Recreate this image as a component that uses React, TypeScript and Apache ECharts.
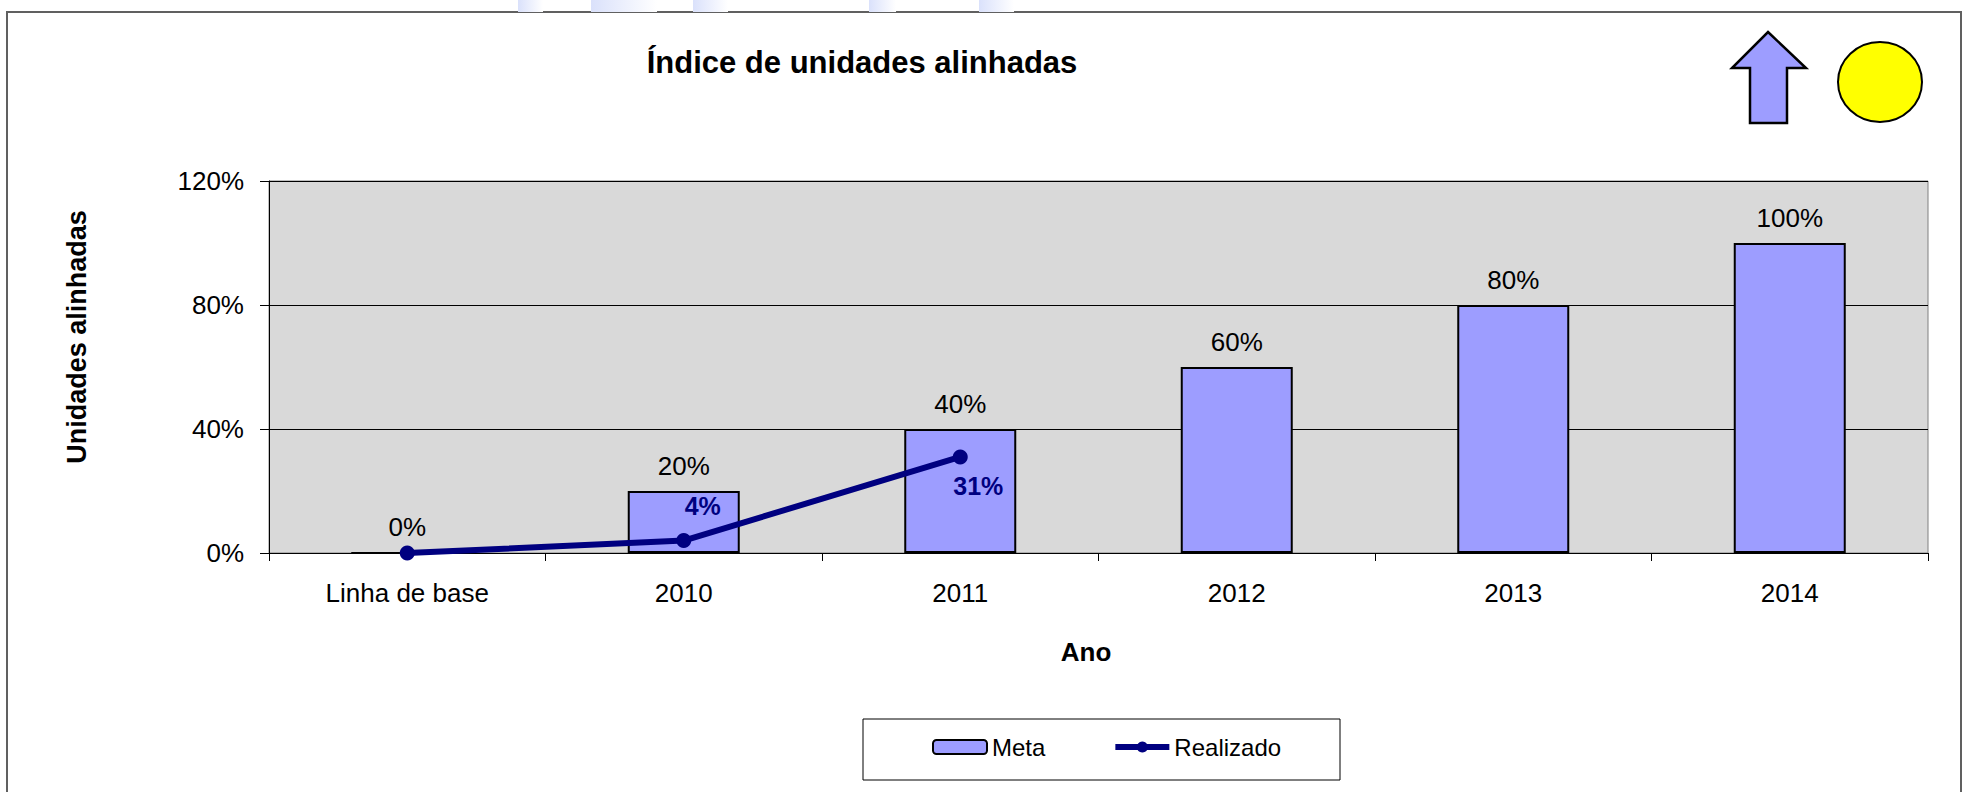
import React, { useEffect, useRef } from "react";
import * as echarts from "echarts";

const categories = ["Linha de base", "2010", "2011", "2012", "2013", "2014"];
const metaValues = [0, 20, 40, 60, 80, 100];
const realizadoValues: (number | string)[] = [0, 4, 31, "-", "-", "-"];
const yTicks = [0, 40, 80, 120];
const titleText = "Índice de unidades alinhadas";
const yAxisTitle = "Unidades alinhadas";
const xAxisTitle = "Ano";

const FONT = "'Liberation Sans', Arial, Helvetica, sans-serif";

export default function App() {
  const ref = useRef<HTMLDivElement>(null);

  useEffect(() => {
    if (!ref.current) return;
    const chart = echarts.init(ref.current, undefined, { renderer: "svg" });

    const realizadoLabelOffsets: Record<number, [number, number]> = {
      1: [19, -35],
      2: [18, 29],
    };
    const realizadoData = realizadoValues.map((v, i) => {
      const off = realizadoLabelOffsets[i];
      return {
        value: v,
        label: off
          ? { show: true, position: "inside", offset: off }
          : { show: false },
      };
    });

    const blobs = [
      [518, 543],
      [591, 657],
      [693, 728],
      [869, 896],
      [979, 1014],
    ];

    const option: any = {
      animation: false,
      backgroundColor: "#ffffff",
      textStyle: { fontFamily: FONT },
      grid: {
        left: 269,
        top: 181,
        width: 1659,
        height: 372,
        show: true,
        backgroundColor: "#d9d9d9",
        borderColor: "#808080",
        borderWidth: 1,
        containLabel: false,
      },
      legend: {
        left: 932,
        top: 735,
        itemWidth: 54,
        itemHeight: 14,
        itemGap: 67,
        padding: 0,
        lineStyle: { width: 6 },
        textStyle: { fontSize: 24, color: "#000", fontFamily: FONT, lineHeight: 24 },
        data: ["Meta", "Realizado"],
      },
      xAxis: {
        type: "category",
        data: categories,
        boundaryGap: true,
        axisLine: { lineStyle: { color: "#000", width: 1 } },
        axisTick: { show: true, length: 8, lineStyle: { color: "#000" } },
        axisLabel: { fontSize: 26, color: "#000", margin: 27, fontFamily: FONT },
        splitLine: { show: false },
      },
      yAxis: {
        type: "value",
        min: yTicks[0],
        max: yTicks[yTicks.length - 1],
        interval: yTicks[1] - yTicks[0],
        axisLine: { show: true, lineStyle: { color: "#000", width: 1 } },
        axisTick: { show: true, length: 9, lineStyle: { color: "#000" } },
        axisLabel: {
          fontSize: 26,
          color: "#000",
          margin: 25,
          fontFamily: FONT,
          formatter: "{value}%",
        },
        splitLine: { show: true, lineStyle: { color: "#000", width: 1 } },
      },
      series: [
        {
          name: "Meta",
          type: "bar",
          data: metaValues,
          barWidth: 112,
          itemStyle: { color: "#9d9dff", borderColor: "#000", borderWidth: 2 },
          label: {
            show: true,
            position: "top",
            distance: 12,
            fontSize: 26,
            color: "#000",
            fontFamily: FONT,
            formatter: "{c}%",
          },
          z: 2,
        },
        {
          name: "Realizado",
          type: "line",
          data: realizadoData,
          symbol: "circle",
          symbolSize: 15,
          lineStyle: { color: "#000080", width: 6 },
          itemStyle: { color: "#000080" },
          label: {
            fontSize: 25,
            fontWeight: "bold",
            color: "#000080",
            fontFamily: FONT,
            formatter: "{c}%",
          },
          z: 5,
        },
      ],
      graphic: [
        ...blobs.map(([a, b]) => ({
          type: "rect",
          shape: { x: a, y: 0, width: b - a, height: 12 },
          style: {
            fill: new echarts.graphic.LinearGradient(0, 0, 1, 0, [
              { offset: 0, color: "#dae1fb" },
              { offset: 1, color: "#ffffff" },
            ]),
          },
          silent: true,
        })),
        {
          type: "rect",
          shape: { x: 7, y: 12, width: 1954, height: 800 },
          style: { fill: "none", stroke: "#606060", lineWidth: 2 },
          silent: true,
          z: -1,
        },
        {
          type: "text",
          x: 862,
          y: 62,
          style: {
            text: titleText,
            font: `bold 31px ${FONT}`,
            fill: "#000",
            align: "center",
            verticalAlign: "middle",
          },
        },
        {
          type: "text",
          x: 77,
          y: 337,
          rotation: Math.PI / 2,
          style: {
            text: yAxisTitle,
            font: `bold 27px ${FONT}`,
            fill: "#000",
            align: "center",
            verticalAlign: "middle",
          },
        },
        {
          type: "text",
          x: 1086,
          y: 652,
          style: {
            text: xAxisTitle,
            font: `bold 26px ${FONT}`,
            fill: "#000",
            align: "center",
            verticalAlign: "middle",
          },
        },
        {
          type: "rect",
          shape: { x: 863, y: 719, width: 477, height: 61 },
          style: { fill: "#ffffff", stroke: "#000", lineWidth: 1 },
          z: -1,
          silent: true,
        },
        {
          type: "polygon",
          shape: {
            points: [
              [1768, 32],
              [1806, 68],
              [1787, 68],
              [1787, 123],
              [1750, 123],
              [1750, 68],
              [1732, 68],
            ],
          },
          style: { fill: "#9d9dff", stroke: "#000", lineWidth: 2.5, lineJoin: "miter" },
        },
        {
          type: "ellipse",
          shape: { cx: 1880, cy: 82, rx: 42, ry: 40 },
          style: { fill: "#ffff00", stroke: "#000", lineWidth: 2 },
        },
      ],
    };

    chart.setOption(option);
    return () => chart.dispose();
  }, []);

  return (
    <div
      ref={ref}
      style={{ position: "absolute", left: 0, top: 0, width: 1964, height: 792 }}
    />
  );
}
